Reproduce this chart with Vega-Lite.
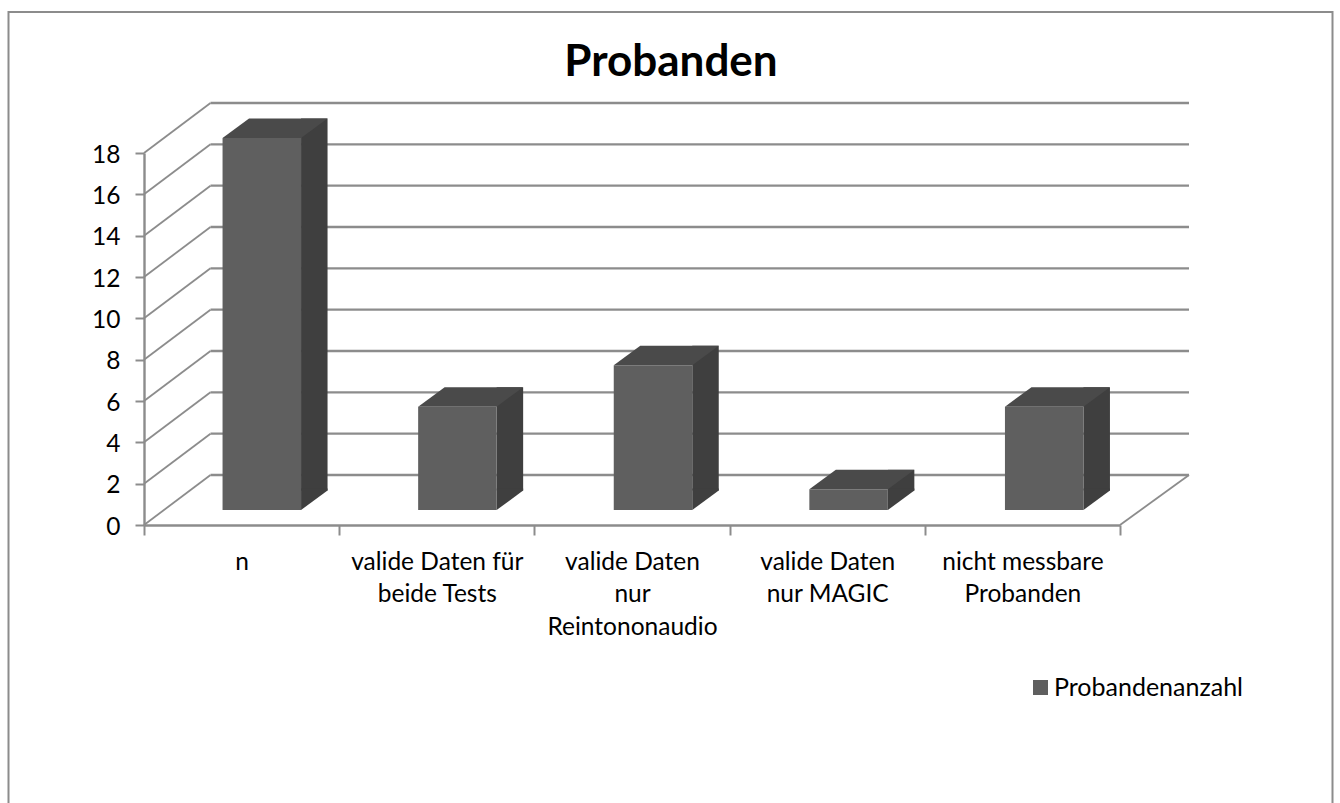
{
 "$schema":"https://vega.github.io/schema/vega-lite/v6.json",
 "autosize":{"type":"none"},
 "width":976,"height":372,
 "padding":{"left":144,"top":153,"right":220,"bottom":278},
 "background":"white",
 "view":{"stroke":null},
 "config":{"font":"Lato"},
 "title":{"text":"Probanden","font":"Lato","fontSize":44,"fontWeight":"bold","color":"#000000","anchor":"middle","offset":-77,"dx":39},
 "datasets":{
  "bars":[
   {"Kategorie":"n","Probanden":18,"Serie":"Probandenanzahl"},
   {"Kategorie":"valide Daten für beide Tests","Probanden":5,"Serie":"Probandenanzahl"},
   {"Kategorie":"valide Daten nur Reintononaudio","Probanden":7,"Serie":"Probandenanzahl"},
   {"Kategorie":"valide Daten nur MAGIC","Probanden":1,"Serie":"Probandenanzahl"},
   {"Kategorie":"nicht messbare Probanden","Probanden":5,"Serie":"Probandenanzahl"}
  ],
  "grid":[{"t":0},{"t":2},{"t":4},{"t":6},{"t":8},{"t":10},{"t":12},{"t":14},{"t":16},{"t":18}]
 },
 "resolve":{"scale":{"x":"independent"}},
 "layer":[
  {"data":{"name":"grid"},
   "mark":{"type":"point","shape":"M0.665,-0.5 L10.45,-0.5","filled":false,"stroke":"#8c8c8c","strokeWidth":2.4,"size":40000,"opacity":1,"xOffset":-97.6},
   "encoding":{
    "x":{"datum":"n","type":"nominal","scale":{"domain":["n","valide Daten für beide Tests","valide Daten nur Reintononaudio","valide Daten nur MAGIC","nicht messbare Probanden"],"paddingInner":0,"paddingOuter":0},
     "axis":{"title":null,"labelAngle":0,"labelFont":"Lato","labelFontSize":24.5,"labelColor":"#000000","labelPadding":15,"labelLimit":300,"labelLineHeight":32.7,"labelBaseline":"top","tickBand":"extent","tickColor":"#8c8c8c","tickSize":10,"tickWidth":2,"domainColor":"#8c8c8c","domainWidth":2.4,"grid":false,
      "labelExpr":"datum.label=='valide Daten für beide Tests'?['valide Daten für','beide Tests']:datum.label=='valide Daten nur Reintononaudio'?['valide Daten','nur','Reintononaudio']:datum.label=='valide Daten nur MAGIC'?['valide Daten','nur MAGIC']:datum.label=='nicht messbare Probanden'?['nicht messbare','Probanden']:datum.label"}},
    "y":{"field":"t","type":"quantitative","scale":{"domain":[0,18],"nice":false,"zero":true},
     "axis":{"title":null,"values":[0,2,4,6,8,10,12,14,16,18],"labelFont":"Lato","labelFontSize":24.5,"labelColor":"#000000","labelPadding":15,"labelOffset":2,"tickColor":"#8c8c8c","tickSize":9,"tickWidth":2,"domainColor":"#8c8c8c","domainWidth":2.4,"grid":false}}}},
  {"data":{"name":"grid"},
   "mark":{"type":"point","shape":"M0,0 L0.665,-0.5","filled":false,"stroke":"#8c8c8c","strokeWidth":1.8,"size":40000,"opacity":1,"xOffset":-97.6},
   "encoding":{"x":{"datum":"n","type":"nominal","scale":{"domain":["n","valide Daten für beide Tests","valide Daten nur Reintononaudio","valide Daten nur MAGIC","nicht messbare Probanden"],"paddingInner":0,"paddingOuter":0},"axis":null},"y":{"field":"t","type":"quantitative"}}},
  {"data":{"values":[{"t":0}]},
   "mark":{"type":"point","shape":"M0,0 L0.69,-0.5","filled":false,"stroke":"#8c8c8c","strokeWidth":1.8,"size":40000,"opacity":1,"xOffset":97.6},
   "encoding":{"x":{"datum":"nicht messbare Probanden","type":"nominal","scale":{"domain":["n","valide Daten für beide Tests","valide Daten nur Reintononaudio","valide Daten nur MAGIC","nicht messbare Probanden"],"paddingInner":0,"paddingOuter":0},"axis":null},"y":{"field":"t","type":"quantitative"}}},
  {"data":{"values":[{"t":0}]},
   "mark":{"type":"point","shape":"M-1.355,3 L-1.355,-5.13 L11.885,-5.13 L11.885,3","filled":false,"stroke":"#8c8c8c","strokeWidth":2,"size":40000,"opacity":1,"xOffset":-97.6},
   "encoding":{"x":{"datum":"n","type":"nominal","scale":{"domain":["n","valide Daten für beide Tests","valide Daten nur Reintononaudio","valide Daten nur MAGIC","nicht messbare Probanden"],"paddingInner":0,"paddingOuter":0},"axis":null},"y":{"field":"t","type":"quantitative"}}},
  {"data":{"name":"bars"},
   "mark":{"type":"bar","size":26.5,"color":"#3f3f3f","xOffset":72.5,"yOffset":-34.5,"y2Offset":-34.5},
   "encoding":{"x":{"field":"Kategorie","type":"nominal","sort":null,"scale":{"domain":["n","valide Daten für beide Tests","valide Daten nur Reintononaudio","valide Daten nur MAGIC","nicht messbare Probanden"],"range":[0,978],"paddingInner":0,"paddingOuter":0},"axis":null},"y":{"field":"Probanden","type":"quantitative"}}},
  {"data":{"name":"bars"},
   "mark":{"type":"point","shape":"M0,-0.02 L0.265,-0.02 L0.265,0 L0,0.195 Z","filled":true,"fill":"#3f3f3f","stroke":null,"size":40000,"opacity":1,"xOffset":59.25,"yOffset":-34.5},
   "encoding":{"x":{"field":"Kategorie","type":"nominal","sort":null,"scale":{"domain":["n","valide Daten für beide Tests","valide Daten nur Reintononaudio","valide Daten nur MAGIC","nicht messbare Probanden"],"range":[0,978],"paddingInner":0,"paddingOuter":0},"axis":null},"y":{"datum":0}}},
  {"data":{"name":"bars"},
   "mark":{"type":"point","shape":"M0,0 L0.785,0 L1.05,-0.195 L0.265,-0.195 Z","filled":true,"fill":"#4a4a4a","stroke":null,"size":40000,"opacity":1,"xOffset":-19.25,"yOffset":-15},
   "encoding":{"x":{"field":"Kategorie","type":"nominal","sort":null,"scale":{"domain":["n","valide Daten für beide Tests","valide Daten nur Reintononaudio","valide Daten nur MAGIC","nicht messbare Probanden"],"range":[0,978],"paddingInner":0,"paddingOuter":0},"axis":null},"y":{"field":"Probanden","type":"quantitative"}}},
  {"data":{"name":"bars"},
   "mark":{"type":"bar","size":78.5,"xOffset":20,"yOffset":-15,"y2Offset":-15},
   "encoding":{"x":{"field":"Kategorie","type":"nominal","sort":null,"scale":{"domain":["n","valide Daten für beide Tests","valide Daten nur Reintononaudio","valide Daten nur MAGIC","nicht messbare Probanden"],"range":[0,978],"paddingInner":0,"paddingOuter":0},"axis":null},"y":{"field":"Probanden","type":"quantitative"},
    "color":{"field":"Serie","type":"nominal","scale":{"range":["#5f5f5f"]},
     "legend":{"title":null,"orient":"none","legendX":884,"legendY":522,"symbolType":"square","symbolSize":225,"labelFont":"Lato","labelFontSize":25,"labelColor":"#000000","labelLimit":300,"labelOffset":1}}}}
 ]
}
